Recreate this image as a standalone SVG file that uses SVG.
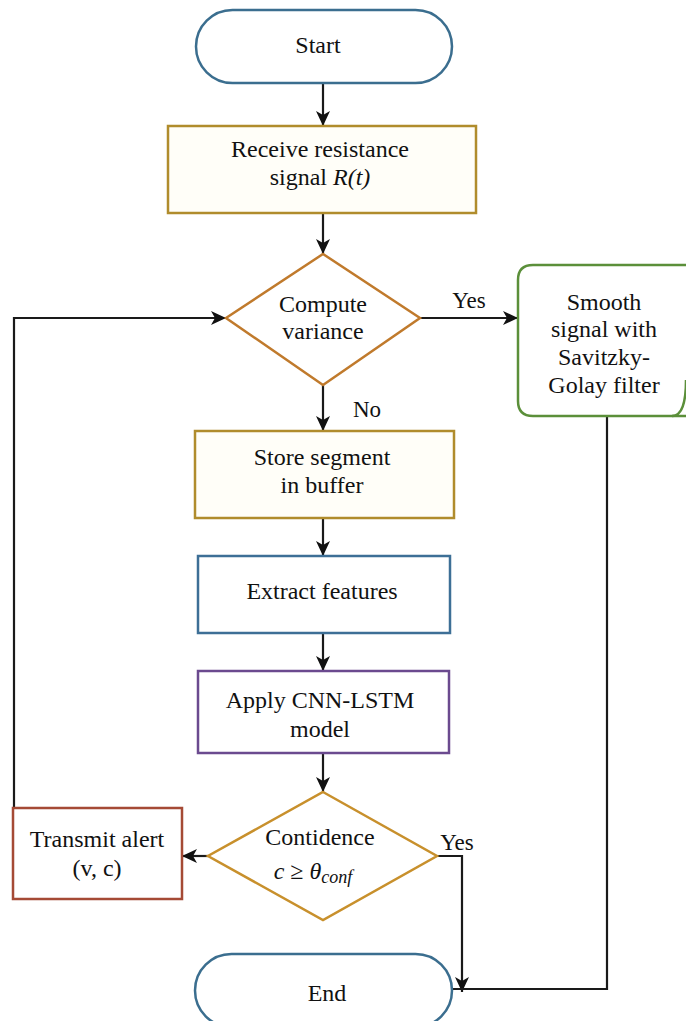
<svg xmlns="http://www.w3.org/2000/svg" width="686" height="1021" viewBox="0 0 686 1021">
<style>
text{font-family:"Liberation Serif","Times New Roman",serif;font-size:24px;fill:#111;text-anchor:middle}
.lbl{font-size:23px}
.node{stroke-width:2.5}
.conn{fill:none;stroke:#1a1a1a;stroke-width:2.2}
.it{font-style:italic}
</style>
<defs>
<marker id="ah" markerUnits="userSpaceOnUse" markerWidth="16" markerHeight="16" viewBox="0 0 16 16" refX="15" refY="8" orient="auto">
<path d="M0,1 L15,8 L0,15 L4,8 Z" fill="#111"/>
</marker>
</defs>
<rect width="686" height="1021" fill="#fff"/>
<g id="connectors">
<line class="conn" x1="323" y1="84" x2="323" y2="126" marker-end="url(#ah)"/>
<line class="conn" x1="323" y1="213" x2="323" y2="254" marker-end="url(#ah)"/>
<line class="conn" x1="420" y1="318" x2="518" y2="318" marker-end="url(#ah)"/>
<line class="conn" x1="323" y1="385" x2="323" y2="431" marker-end="url(#ah)"/>
<line class="conn" x1="323" y1="518" x2="323" y2="556" marker-end="url(#ah)"/>
<line class="conn" x1="323" y1="633" x2="323" y2="671" marker-end="url(#ah)"/>
<line class="conn" x1="323" y1="753" x2="323" y2="792" marker-end="url(#ah)"/>
<line class="conn" x1="208" y1="856" x2="182" y2="856" marker-end="url(#ah)"/>
<polyline class="conn" points="14,808 14,318 226,318" marker-end="url(#ah)"/>
<polyline class="conn" points="437,856 462,856 462,992" marker-end="url(#ah)"/>
<polyline class="conn" points="607,416 607,989 452,989"/>
<text class="lbl" x="469" y="308">Yes</text>
<text class="lbl" x="367" y="417">No</text>
<text class="lbl" x="457" y="850">Yes</text>
</g>
<g id="start">
<rect class="node" x="196" y="10" width="256" height="73" rx="36.5" fill="#fff" stroke="#3b6e8f"/>
<text x="318" y="53">Start</text>
</g>
<g id="receive">
<rect class="node" x="168" y="126" width="308" height="87" fill="#fffef8" stroke="#b08c2c"/>
<text x="320" y="157">Receive resistance</text>
<text x="320" y="185">signal <tspan class="it">R(t)</tspan></text>
</g>
<g id="compute">
<polygon class="node" points="323,254 420,318 323,385 226,318" fill="#fff" stroke="#c07a2c"/>
<text x="323" y="312">Compute</text>
<text x="323" y="339">variance</text>
</g>
<g id="smooth">
<path class="node" d="M533,265 H700 V416 H533 Q518,416 518,401 V280 Q518,265 533,265 Z" fill="#fff" stroke="#5b8f3a"/>
<path class="node" d="M686,380 Q686,416 672,416" fill="none" stroke="#5b8f3a"/>
<text x="604" y="310">Smooth</text>
<text x="604" y="337">signal with</text>
<text x="604" y="365">Savitzky-</text>
<text x="604" y="393">Golay filter</text>
</g>
<g id="store">
<rect class="node" x="195" y="431" width="259" height="87" fill="#fffef8" stroke="#b08c2c"/>
<text x="322" y="465">Store segment</text>
<text x="322" y="493">in buffer</text>
</g>
<g id="extract">
<rect class="node" x="198" y="556" width="252" height="77" fill="#fff" stroke="#3d6f96"/>
<text x="322" y="599">Extract features</text>
</g>
<g id="apply">
<rect class="node" x="198" y="671" width="251" height="82" fill="#fff" stroke="#6b4a8f"/>
<text x="320" y="708">Apply CNN-LSTM</text>
<text x="320" y="737">model</text>
</g>
<g id="confidence">
<polygon class="node" points="323,792 437,856 323,920 208,856" fill="#fff" stroke="#c8902c"/>
<text x="320" y="845">Contidence</text>
<text x="313" y="879" font-size="27"><tspan class="it">c</tspan> ≥ <tspan class="it">θ</tspan><tspan class="it" font-size="18" dy="4">conf</tspan></text>
</g>
<g id="transmit">
<rect class="node" x="13" y="808" width="169" height="91" fill="#fff" stroke="#a54a35"/>
<text x="97" y="847">Transmit alert</text>
<text x="97" y="876">(v, c)</text>
</g>
<g id="end">
<rect class="node" x="195" y="954" width="257" height="73" rx="36.5" fill="#fff" stroke="#3b6e8f"/>
<text x="327" y="1001">End</text>
</g>
</svg>
